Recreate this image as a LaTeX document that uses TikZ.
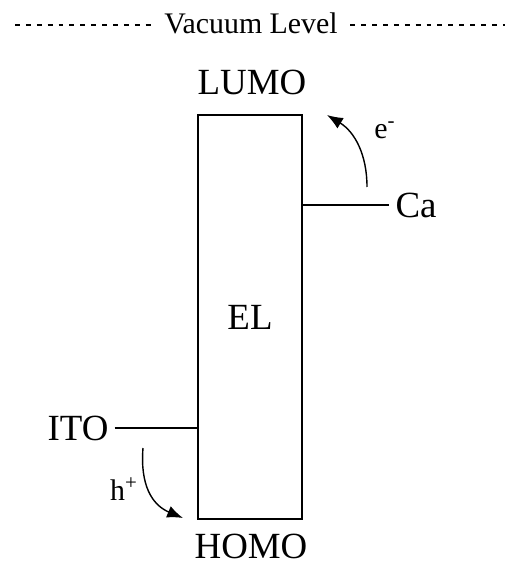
\documentclass[tikz,border=0pt]{standalone}
\usepackage{fontspec}
\setmainfont{Liberation Serif}
\usetikzlibrary{arrows.meta}

\begin{document}
\begin{tikzpicture}[x=0.02cm, y=-0.02cm, font=\fontsize{21}{24}\selectfont,
    flow/.style={-{Latex[length=9pt,width=7pt]}, line width=0.8pt},
    small/.style={font=\fontsize{17}{19}\selectfont}]
  \useasboundingbox (0,0) rectangle (505,567);

  % vacuum level
  \node[small, inner sep=7pt] (VL) at (251,23) {Vacuum Level};
  \coordinate (VLa) at (15,25);
  \coordinate (VLb) at (505,25);
  \draw[line width=0.9pt, dash pattern=on 2.8pt off 3.4pt] (VLa) -- (VL.west |- VLa);
  \draw[line width=0.9pt, dash pattern=on 2.8pt off 3.4pt] (VL.east |- VLb) -- (VLb);

  % emitting layer
  \node[draw, line width=0.9pt, minimum width=2.08cm, minimum height=8.08cm] (EL) at (250,317) {EL};
  \node (LUMO) at (252,82) {LUMO};
  \node[inner sep=1pt] (HOMO) at (251,546) {HOMO};

  % electrodes
  \node (Ca) at (416,205) {Ca};
  \node (ITO) at (78,428) {ITO};
  \draw[line width=0.9pt] (EL.east |- Ca) -- (Ca.west);
  \draw[line width=0.9pt] (ITO.east) -- (ITO.east -| EL.west);

  % injection
  \coordinate (e1) at (367,187);
  \coordinate (e2) at (327,115);
  \draw[flow] (e1) .. controls (367,155) and (355,132) .. (e2);
  \node[small] (el) at (385,130) {e\textsuperscript{-}};
  \coordinate (h1) at (143,448);
  \coordinate (h2) at (183,518);
  \draw[flow] (h1) .. controls (140,485) and (152,505) .. (h2);
  \node[small] (hl) at (124,489) {h\textsuperscript{+}};
\end{tikzpicture}
\end{document}
